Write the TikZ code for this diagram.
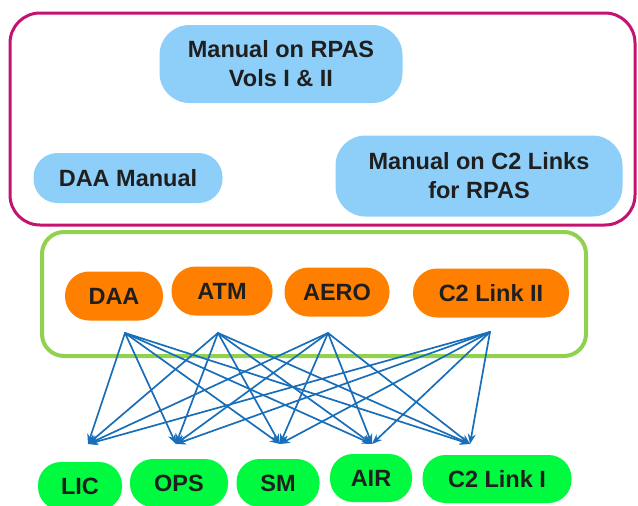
\documentclass[tikz,border=0pt]{standalone}
\usepackage{fontspec}
\setmainfont{Liberation Sans}
\usetikzlibrary{arrows.meta}
\definecolor{magframe}{RGB}{196,18,114}
\definecolor{grnframe}{RGB}{146,208,80}
\definecolor{manblue}{RGB}{142,207,250}
\definecolor{grporange}{RGB}{255,128,0}
\definecolor{panelgreen}{RGB}{0,250,64}
\definecolor{linkblue}{RGB}{25,110,185}
\begin{document}
\begin{tikzpicture}[x=1pt,y=-1pt,line join=round,line cap=round,
  >={Stealth[length=10pt,width=8pt]},
  font=\fontsize{23.5}{29}\selectfont\bfseries,
  pill/.style={inner sep=0pt,align=center,text=black!88},
  manual/.style={pill,fill=manblue},
  group/.style={pill,fill=grporange,minimum height=49pt,rounded corners=24pt},
  panel/.style={pill,fill=panelgreen,minimum height=48pt,rounded corners=23pt},
  link/.style={->,draw=linkblue,line width=1.7pt}]
\useasboundingbox (0,0) rectangle (638,506);
\clip (0,0) rectangle (638,506);
% frames
\draw[magframe,line width=3pt,rounded corners=30pt] (10,13) rectangle (635,225);
\draw[grnframe,line width=4pt,rounded corners=22pt] (42,232) rectangle (586,356);
% manuals
\node[manual,minimum width=243pt,minimum height=78pt,rounded corners=30pt] (rpas) at (281,64) {Manual on RPAS\\Vols I \& II};
\node[manual,minimum width=189pt,minimum height=50pt,rounded corners=24pt] (daaman) at (128,178) {DAA Manual};
\node[manual,minimum width=287pt,minimum height=81pt,rounded corners=30pt] (c2man) at (479,176) {Manual on C2 Links\\for RPAS};
% groups
\node[group,minimum width=98pt] (daa) at (114,296) {DAA};
\node[group,minimum width=101pt] (atm) at (222,291) {ATM};
\node[group,minimum width=105pt] (aero) at (337,292) {AERO};
\node[group,minimum width=156pt] (c2g) at (491,293) {C2 Link II};
% panels
\node[panel,minimum width=84pt] (lic) at (80,486) {LIC};
\node[panel,minimum width=98pt] (ops) at (179,483) {OPS};
\node[panel,minimum width=83pt] (sm) at (278,483) {SM};
\node[panel,minimum width=82pt] (air) at (371,478) {AIR};
\node[panel,minimum width=149pt] (c2p) at (497,479) {C2 Link I};
% arrow ends
\coordinate (sdaa) at (125,333);
\coordinate (satm) at (218,333);
\coordinate (saero) at (328,333);
\coordinate (sc2g) at (490,332);
\coordinate (tlic) at (88,444);
\coordinate (tops) at (176,444);
\coordinate (tsm) at (280,444);
\coordinate (tair) at (372,444);
\coordinate (tc2p) at (470,444);
\foreach \s in {sdaa,satm,saero,sc2g}
  \foreach \t in {tlic,tops,tsm,tair,tc2p}
    \draw[link] (\s) -- (\t);
\end{tikzpicture}
\end{document}
